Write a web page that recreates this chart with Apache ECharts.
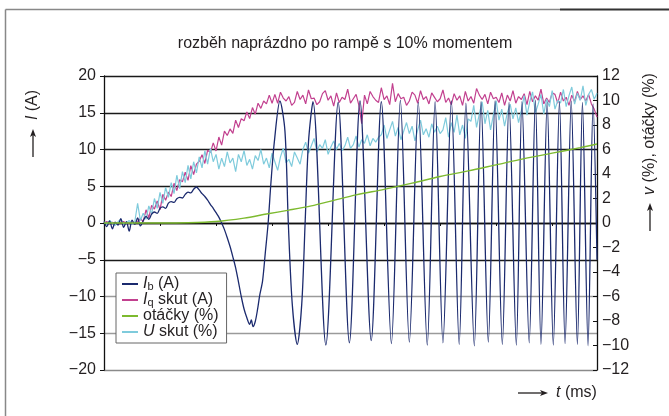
<!DOCTYPE html>
<html><head><meta charset="utf-8">
<script src="https://cdn.jsdelivr.net/npm/echarts@6/dist/echarts.min.js"></script>
<style>html,body{margin:0;padding:0;background:#fff}#c{width:669px;height:416px}</style>
</head><body><div id="c"></div>
<script>
const FONT = '"Liberation Sans", Arial, Helvetica, sans-serif';
const TXT = '#231f20';

// sample step (ms scale units) of the noisy recorded signals
const T_STEP = 0.5;

// I_b (A): time and value
const ibT = [0,0.5,1,1.5,2,2.5,3,3.5,4,4.5,5,5.5,6,6.5,7,7.5,8,8.5,9,9.5,10,10.5,11,11.5,12,12.5,13,13.5,14,14.5,15,15.5,16,16.5,17,17.5,18,18.5,19,19.5,20,20.5,21,21.5,22,22.5,23,23.5,24,24.5,25,25.5,26,26.3,26.6,27,27.4,27.8,28.3,28.8,29.3,29.8,30.4,31.4,32.3,32.9,33.6,34.5,35.3,35.9,36.5,37.3,
  39.6,41.8,43.8,45.7,47.7,49.5,51.3,52.9,54.5,56.1,57.7,59.1,60.5,62.0,63.4,64.6,66.1,67.3,68.6,69.8,71.1,72.3,73.6,74.6,75.9,77.0,78.0,79.1,80.2,81.3,82.3,83.4,84.5,85.4,86.4,87.3,88];
const ibV = [0.2,-0.5,0.3,-0.8,0.1,-0.3,0.6,-0.6,0.2,-1.1,0.4,-0.2,0.7,-0.4,0.3,0.9,0.5,1.2,1.5,1.3,2.0,2.2,2.0,2.7,2.9,2.8,3.3,3.5,3.4,3.9,4.2,4.1,4.6,4.9,4.5,4.0,3.6,3.1,2.5,2.0,1.4,0.8,0.0,-0.9,-2.0,-3.2,-4.6,-6.1,-8.0,-10.0,-11.7,-12.9,-13.8,-13.2,-14.1,-13.4,-11.8,-9.8,-7.9,-4.0,0.0,5.5,11.0,16.6,12.5,0.0,-11.0,-16.5,-11.0,0.0,11.0,16.5,
  -16.6,16.4,-16.3,16.6,-16.0,16.5,-16.4,16.7,-16.2,16.4,-16.6,16.5,-16.3,16.6,-16.5,16.3,-16.7,16.5,-16.2,16.6,-16.5,16.4,-16.6,16.5,-16.3,16.7,-16.5,16.4,-16.6,16.5,-16.4,16.6,-16.5,16.4,-16.7,16.2,-5.0];

// I_q skut (A), one value per T_STEP
const iqV = [0.0,0.2,-0.1,0.1,0.0,-0.2,0.1,0.2,-0.1,0.0,0.1,-0.1,0.2,
  0.6,0.2,1.8,0.7,2.4,1.9,3.0,1.8,3.9,3.1,4.2,3.6,5.4,4.4,5.9,5.6,6.9,5.8,7.8,6.6,
  8.0,8.4,9.3,8.1,9.9,9.6,10.9,9.8,11.7,10.6,12.5,11.9,12.8,12.2,14.0,13.0,14.2,13.9,15.1,14.2,
  15.7,14.8,16.3,15.6,16.6,16.2,17.4,16.3,
  17.5,16.3,17.8,17.0,16.6,17.2,16.0,16.4,17.9,16.8,
  17.4,16.2,18.1,16.9,17.0,16.1,16.5,17.6,18.0,16.7,
  17.3,15.9,17.7,16.4,17.1,16.8,18.2,16.3,16.9,17.5,
  16.0,13.5,17.4,16.2,17.9,17.2,16.7,16.4,18.4,16.8,
  17.3,16.1,19.0,16.5,17.6,16.9,17.1,16.0,16.6,17.8,
  17.4,16.3,18.0,16.8,17.2,16.2,17.7,17.1,16.5,16.9,
  18.1,16.4,17.0,16.1,17.6,16.7,17.3,16.0,17.9,16.6,
  17.2,16.3,18.3,17.4,16.8,17.5,16.2,17.8,16.9,17.1,
  16.4,17.7,16.0,17.4,16.6,18.0,16.3,17.2,16.8,17.6,
  16.1,17.9,16.5,17.3,16.7,18.2,16.2,17.0,16.4,17.7,
  17.5,16.3,17.8,16.6,17.1,16.0,17.4,16.5,17.9,16.8,
  17.3,16.6,17.5,16.2,15.5,14.4];

// U skut (%), one value per T_STEP (right axis)
const uV = [0.1,-0.1,0.2,0.0,-0.2,0.1,0.3,-0.1,0.0,0.2,-0.1,0.1,
  1.6,0.2,0.8,0.3,1.4,0.7,2.0,1.2,2.5,1.6,2.9,2.1,3.3,2.4,3.9,2.8,4.2,3.3,4.7,3.6,5.0,4.1,5.4,4.5,5.9,4.8,6.1,5.0,5.6,4.4,5.3,
  4.6,5.8,4.9,5.3,4.2,5.6,5.0,5.9,4.7,5.2,4.4,5.5,5.1,6.0,4.8,5.3,4.5,5.7,5.0,4.3,5.4,6.1,4.9,5.2,4.6,5.8,5.3,4.8,
  6.0,6.6,5.7,6.3,6.9,5.8,6.4,6.1,6.8,5.6,6.2,6.7,6.0,6.5,5.9,6.3,7.0,6.1,
  6.4,7.1,6.2,6.8,6.5,7.2,6.3,6.9,6.6,7.0,
  7.2,8.0,6.9,7.6,8.3,7.1,7.8,6.8,7.5,8.2,7.3,7.9,6.7,7.6,8.4,7.2,7.7,7.0,8.1,7.4,7.9,7.3,
  7.6,8.6,7.0,8.2,7.4,8.8,7.2,8.0,6.9,8.5,
  8.3,9.6,7.8,8.9,9.9,8.1,9.2,7.6,8.8,10.0,8.4,9.3,7.9,9.0,9.7,8.5,9.4,8.2,
  9.2,10.4,8.8,9.9,10.7,9.0,9.7,10.5,8.9,10.1,9.5,10.8,9.3,10.0,
  9.8,10.9,9.5,10.4,11.1,9.7,10.6,10.0,11.2,9.6,10.5,10.9,10.1,10.6];

// otáčky (%) (right axis)
const otT = [0,10,15,20,25,29,33,37,41,45,50,55,60,65,70,75,80,85,88];
const otV = [0,0,0.02,0.12,0.4,0.73,1.05,1.4,1.85,2.3,2.75,3.25,3.8,4.25,4.75,5.25,5.7,6.15,6.45];

const leftRange = [-20, 20, 5];
const rightRange = [-12, 12, 2];
const xRange = [0, 88, 10];

const legendText = {
  Ib: '{i|I}{s|b} (A)',
  Iq: '{i|I}{s|q} skut (A)',
  ot: 'otáčky (%)',
  U: '{i|U} skut (%)'
};

const C_IB = '#1b2a6e', C_IQ = '#c2408f', C_OT = '#7dba2f', C_U = '#7fcbdc';

const minus = v => String(v).replace('-', '\u2212');

const chart = echarts.init(document.getElementById('c'), null, {renderer: 'canvas'});
chart.setOption({
  animation: false,
  backgroundColor: '#fff',
  grid: {left: 104, right: 72, top: 76, bottom: 46, containLabel: false},
  xAxis: {
    type: 'value', min: xRange[0], max: xRange[1], interval: xRange[2],
    axisLine: {onZero: true, lineStyle: {color: '#111', width: 1.3}},
    axisTick: {show: true, length: 3, lineStyle: {color: '#111', width: 1}},
    axisLabel: {show: false},
    splitLine: {show: false}
  },
  yAxis: [{
    type: 'value', min: leftRange[0], max: leftRange[1], interval: leftRange[2],
    axisLine: {show: true, onZero: false, lineStyle: {color: '#111', width: 1.3}},
    axisTick: {show: true, length: 4, lineStyle: {color: '#111'}},
    axisLabel: {margin: 8, fontFamily: FONT, fontSize: 16, color: TXT, formatter: minus},
    splitLine: {show: true, lineStyle: {width: 1.3,
      color: ['#8a8a8a', '#9a9a9a', '#9a9a9a', '#1a1a1a', '#1a1a1a', '#1a1a1a', '#1a1a1a', '#1a1a1a', '#1a1a1a']}}
  }, {
    type: 'value', position: 'right', min: rightRange[0], max: rightRange[1], interval: rightRange[2],
    axisLine: {show: true, onZero: false, lineStyle: {color: '#111', width: 1.3}},
    axisTick: {show: true, inside: true, length: 4, lineStyle: {color: '#111'}},
    axisLabel: {margin: 5, fontFamily: FONT, fontSize: 16, color: TXT, formatter: minus},
    splitLine: {show: false}
  }],
  legend: {
    orient: 'vertical', left: 116, top: 273,
    data: ['Ib', 'Iq', 'ot', 'U'],
    icon: 'rect', itemWidth: 16, itemHeight: 2, itemGap: 0,
    padding: [3, 8, 3, 6],
    backgroundColor: '#fff', borderColor: '#666', borderWidth: 1,
    selectedMode: false,
    formatter: n => legendText[n],
    textStyle: {
      fontFamily: FONT, fontSize: 16, color: TXT, lineHeight: 16,
      rich: {
        i: {fontFamily: FONT, fontSize: 16, fontStyle: 'italic', color: TXT, lineHeight: 16},
        s: {fontFamily: FONT, fontSize: 11, color: TXT, lineHeight: 11, verticalAlign: 'bottom', padding: [5, 0, 0, 0]}
      }
    }
  },
  series: [
    {name: 'Ib', type: 'line', yAxisIndex: 0, symbol: 'none', smooth: 0.3, z: 4,
     itemStyle: {color: C_IB}, lineStyle: {color: C_IB, width: 1.3},
     data: ibT.map((t, i) => [t, ibV[i]])},
    {name: 'Iq', type: 'line', yAxisIndex: 0, symbol: 'none', z: 2,
     itemStyle: {color: C_IQ}, lineStyle: {color: C_IQ, width: 1.2},
     data: iqV.map((v, i) => [i * T_STEP, v])},
    {name: 'ot', type: 'line', yAxisIndex: 1, symbol: 'none', smooth: 0.3, z: 5,
     itemStyle: {color: C_OT}, lineStyle: {color: C_OT, width: 1.4},
     data: otT.map((t, i) => [t, otV[i]])},
    {name: 'U', type: 'line', yAxisIndex: 1, symbol: 'none', z: 3,
     itemStyle: {color: C_U}, lineStyle: {color: C_U, width: 1.2},
     data: uV.map((v, i) => [i * T_STEP, v])}
  ],
  graphic: [
    // outer frame
    {type: 'line', shape: {x1: 5.5, y1: 9.5, x2: 5.5, y2: 420}, style: {stroke: '#888', lineWidth: 1.5}, silent: true},
    {type: 'line', shape: {x1: 5.5, y1: 9.5, x2: 560, y2: 9.5}, style: {stroke: '#888', lineWidth: 1.5}, silent: true},
    {type: 'line', shape: {x1: 560, y1: 9.5, x2: 669, y2: 9.5}, style: {stroke: '#333', lineWidth: 1.8}, silent: true},
    // title
    {type: 'text', x: 345, y: 44, silent: true,
     style: {text: 'rozběh naprázdno po rampě s 10% momentem', font: '16px ' + FONT, fill: TXT, align: 'center', verticalAlign: 'middle'}},
    // left axis name
    {type: 'line', shape: {x1: 33, y1: 157, x2: 33, y2: 133}, style: {stroke: TXT, lineWidth: 1.3}, silent: true},
    {type: 'polygon', shape: {points: [[33, 129], [30, 137], [33, 135], [36, 137]]}, style: {fill: TXT}, silent: true},
    {type: 'text', x: 33, y: 105, rotation: Math.PI / 2, silent: true,
     style: {text: '{i|I} (A)', font: '16px ' + FONT, fill: TXT, align: 'center', verticalAlign: 'middle',
       rich: {i: {fontStyle: 'italic', fontFamily: FONT, fontSize: 16, fill: TXT}}}},
    // right axis name
    {type: 'line', shape: {x1: 650, y1: 231, x2: 650, y2: 207}, style: {stroke: TXT, lineWidth: 1.3}, silent: true},
    {type: 'polygon', shape: {points: [[650, 203], [647, 211], [650, 209], [653, 211]]}, style: {fill: TXT}, silent: true},
    {type: 'text', x: 650, y: 134, rotation: Math.PI / 2, silent: true,
     style: {text: '{i|v} (%), otáčky (%)', font: '16px ' + FONT, fill: TXT, align: 'center', verticalAlign: 'middle',
       rich: {i: {fontStyle: 'italic', fontFamily: FONT, fontSize: 16, fill: TXT}}}},
    // x axis name
    {type: 'line', shape: {x1: 518, y1: 393, x2: 544, y2: 393}, style: {stroke: TXT, lineWidth: 1.3}, silent: true},
    {type: 'polygon', shape: {points: [[548, 393], [540, 390], [542, 393], [540, 396]]}, style: {fill: TXT}, silent: true},
    {type: 'text', x: 556, y: 393, silent: true,
     style: {text: '{i|t} (ms)', font: '16px ' + FONT, fill: TXT, align: 'left', verticalAlign: 'middle',
       rich: {i: {fontStyle: 'italic', fontFamily: FONT, fontSize: 16, fill: TXT}}}}
  ]
});
</script>
</body></html>
